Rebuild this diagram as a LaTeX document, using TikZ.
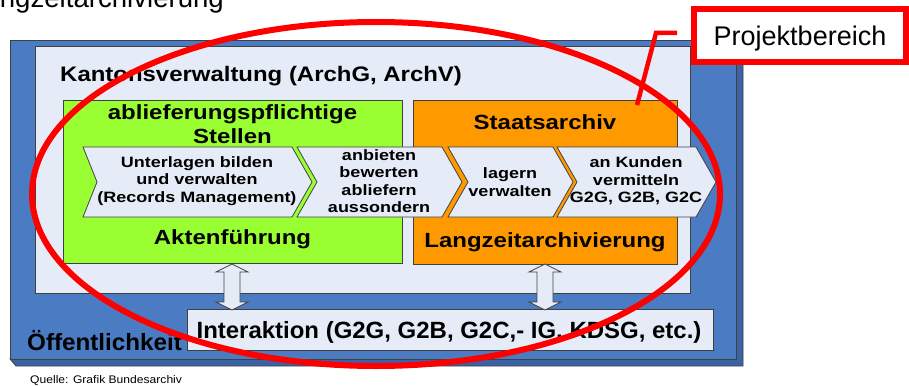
\documentclass[tikz,border=0pt]{standalone}
\usepackage{fontspec}
\setmainfont{Liberation Sans}
\definecolor{faceblue}{HTML}{4A7BC3}
\definecolor{sideblue}{HTML}{3A62A4}
\definecolor{paleblue}{HTML}{E6ECF7}
\definecolor{lime}{HTML}{99FF33}
\definecolor{amber}{HTML}{FF9900}

\begin{document}
\begin{tikzpicture}[x=1pt,y=-1pt,
    frame/.style={draw=black!75,line width=0.8pt},
    chev/.style={draw=black!75,fill=paleblue,line width=0.8pt},
    head/.style={font=\fontsize{20.5}{22}\selectfont\bfseries,xscale=1.17,inner sep=0pt},
    chevtext/.style={font=\fontsize{15}{17.5}\selectfont\bfseries,align=center,xscale=1.2,inner sep=0pt},
    bigtext/.style={font=\fontsize{23.5}{26}\selectfont\bfseries,inner sep=0pt},
    ring/.style={draw=red,line width=6pt}]
  \useasboundingbox (0,0) rectangle (909,385);
  \clip (0,0) rectangle (909,385);

  \node[font=\fontsize{27.6}{30}\selectfont,anchor=base west,inner sep=0pt] (title) at (-31,7.5) {Langzeitarchivierung};

  % blue base with its side faces
  \draw[frame,fill=sideblue] (10,359) -- (16,366) -- (743,366) -- (743,47) -- (736,40) -- (736,359) -- cycle;
  \draw[frame,fill=faceblue] (10,40) rectangle (736,359);

  \draw[frame,fill=paleblue] (35,46) rectangle (690,293);
  \node[font=\fontsize{21}{24}\selectfont\bfseries,xscale=1.14,anchor=base west,inner sep=0pt] (kanton) at (60,82) {Kantonsverwaltung (ArchG, ArchV)};

  \draw[frame,fill=lime] (63,100) rectangle (402,263);
  \draw[frame,fill=amber] (413,100) rectangle (677,264);

  \node[head,anchor=base] (stellen1) at (232.5,119) {ablieferungspflichtige};
  \node[head,anchor=base] (stellen2) at (232.5,143) {Stellen};
  \node[head,anchor=base] (akten) at (232.5,244) {Aktenführung};
  \node[head,anchor=base] (staat) at (545,129) {Staatsarchiv};
  \node[head,anchor=base] (langzeit) at (545,247) {Langzeitarchivierung};

  % process chain
  \draw[chev] (83,147) -- (292,147) -- (312,182) -- (292,217) -- (83,217) -- (97,182) -- cycle;
  \draw[chev] (297,147) -- (442,147) -- (462,182) -- (442,217) -- (297,217) -- (317,182) -- cycle;
  \draw[chev] (448,147) -- (553,147) -- (573,182) -- (553,217) -- (448,217) -- (468,182) -- cycle;
  \draw[chev] (557,147) -- (696,147) -- (716,182) -- (696,217) -- (557,217) -- (577,182) -- cycle;

  \node[chevtext] (bilden) at (197,181) {Unterlagen bilden\\und verwalten\\(Records Management)};
  \node[chevtext] (anbieten) at (379,181) {anbieten\\bewerten\\abliefern\\aussondern};
  \node[chevtext] (lagern) at (510,182) {lagern\\verwalten};
  \node[chevtext] (kunden) at (636,181) {an Kunden\\vermitteln\\G2G, G2B, G2C};

  \draw[frame,fill=paleblue] (187,309) rectangle (713,350);
  \node[bigtext,xscale=1.02,anchor=base] (interaktion) at (449,338) {Interaktion (G2G, G2B, G2C,- IG, KDSG, etc.)};

  % double arrows
  \draw[chev] (232,264) -- (248,272) -- (240,272) -- (240,302) -- (248,302) -- (232,310)
    -- (216,302) -- (224,302) -- (224,272) -- (216,272) -- cycle;
  \draw[chev] (545,264) -- (561,272) -- (553,272) -- (553,302) -- (561,302) -- (545,310)
    -- (529,302) -- (537,302) -- (537,272) -- (529,272) -- cycle;

  \node[bigtext,xscale=1.03,anchor=base west] (oeff) at (27,350) {Öffentlichkeit};
  \node[font=\fontsize{11}{12}\selectfont,xscale=1.1,anchor=base west,inner sep=0pt] (quelle) at (30,383) {Quelle: Grafik Bundesarchiv};

  % project area
  \draw[ring] (376,194) ellipse [x radius=344, y radius=172];
  \node[draw=red,line width=6pt,fill=white,minimum width=212pt,minimum height=53pt,
        text depth=0pt,font=\fontsize{27}{30}\selectfont] (proj) at (800,35.5) {Projektbereich};
  \coordinate (pin) at (637,105);
  \coordinate (knee) at (656,33);
  \coordinate (pinend) at (677,33);
  \draw[red,line width=4.5pt] (pin) -- (knee) -- (pinend);
\end{tikzpicture}
\end{document}
